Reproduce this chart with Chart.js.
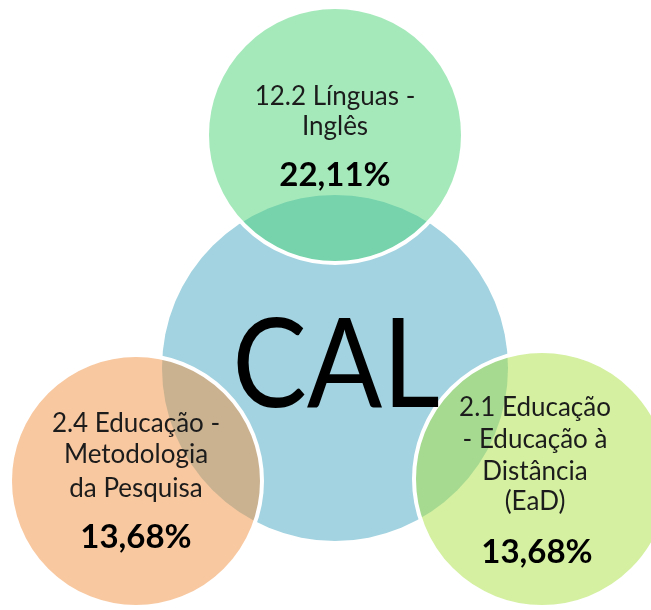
<!DOCTYPE html>
<html>
<head>
<meta charset="utf-8">
<title>CAL</title>
<script src="https://cdn.jsdelivr.net/npm/chart.js@4.4.1/dist/chart.umd.min.js"></script>
<style>
  html, body { margin: 0; padding: 0; background: #ffffff; }
  canvas { display: block; }
</style>
</head>
<body>
<canvas id="grafico" width="651" height="610"></canvas>
<script>
// dados
var centro = 'CAL';
var categorias = [ '12.2 Línguas - Inglês', '2.4 Educação - Metodologia da Pesquisa',
		'2.1 Educação - Educação à Distância (EaD)' ];
var linhas = [ [ '12.2 Línguas -', 'Inglês' ],
		[ '2.4 Educação -', 'Metodologia', 'da Pesquisa' ],
		[ '2.1 Educação', '- Educação à', 'Distância', '(EaD)' ] ];
var percentuais = [ 22.11, 13.68, 13.68 ];

// layout dos circulos (pixels, eixo y para baixo)
var circulos = [ { x : 335, y : 368, r : 173 },   // CAL
		{ x : 335, y : 135, r : 128 },          // 12.2
		{ x : 136, y : 481, r : 126 },          // 2.4
		{ x : 542, y : 479, r : 128 } ];        // 2.1
var cores = [ 'rgba(163, 211, 224, 1)', 'rgba(75, 211, 119, 0.5)',
		'rgba(241, 145, 65, 0.5)', 'rgba(169, 225, 65, 0.5)' ];
// posicao das linhas de texto em relacao ao centro
var offsetsY = [ [ -30, 0, 51 ], [ -49, -18, 16, 67 ], [ -63, -31, 1, 31, 84 ] ];
var offsetsX = [ 0, 0, -7 ];

function fmt(v) {
	return v.toFixed(2).replace('.', ',') + '%';
}

var rotulos = {
	id : 'rotulos',
	afterDatasetsDraw : function(chart) {
		var ctx = chart.ctx;
		ctx.save();
		ctx.textAlign = 'center';
		ctx.textBaseline = 'alphabetic';

		var cal = chart.getDatasetMeta(3).data[0];
		ctx.fillStyle = '#000000';
		ctx.font = '124px Lato';
		ctx.save();
		ctx.translate(cal.x + 1, 407);
		ctx.scale(0.9, 1);
		ctx.fillText(centro, 0, 0);
		ctx.restore();

		for (var i = 0; i < categorias.length; i++) {
			var el = chart.getDatasetMeta(2 - i).data[0];
			var ls = linhas[i];
			var x = el.x + offsetsX[i];
			ctx.fillStyle = '#1c1c1c';
			ctx.font = '26px Lato';
			for (var j = 0; j < ls.length; j++) {
				ctx.fillText(ls[j], x, el.y + offsetsY[i][j]);
			}
			ctx.fillStyle = '#000000';
			ctx.font = 'bold 33px Lato';
			ctx.fillText(fmt(percentuais[i]), x + (i == 2 ? 2 : 0), el.y
					+ offsetsY[i][ls.length]);
		}
		ctx.restore();
	}
};

// dataset 0 fica por cima, entao o circulo central vai por ultimo
var datasets = [];
for (var k = 3; k >= 0; k--) {
	datasets.push({
		label : k == 0 ? centro : categorias[k - 1],
		data : [ circulos[k] ],
		backgroundColor : cores[k],
		borderColor : '#ffffff',
		borderWidth : k == 0 ? 0 : 4,
		hoverRadius : 0,
		clip : false
	});
}

var chart = new Chart(document.getElementById('grafico'), {
	type : 'bubble',
	data : {
		datasets : datasets
	},
	options : {
		responsive : false,
		animation : false,
		layout : {
			padding : 0,
			autoPadding : false
		},
		plugins : {
			legend : {
				display : false
			},
			tooltip : {
				enabled : false
			}
		},
		scales : {
			x : {
				type : 'linear',
				min : 0,
				max : 651,
				display : false
			},
			y : {
				type : 'linear',
				min : 0,
				max : 610,
				reverse : true,
				display : false
			}
		}
	},
	plugins : [ rotulos ]
});
</script>
</body>
</html>
